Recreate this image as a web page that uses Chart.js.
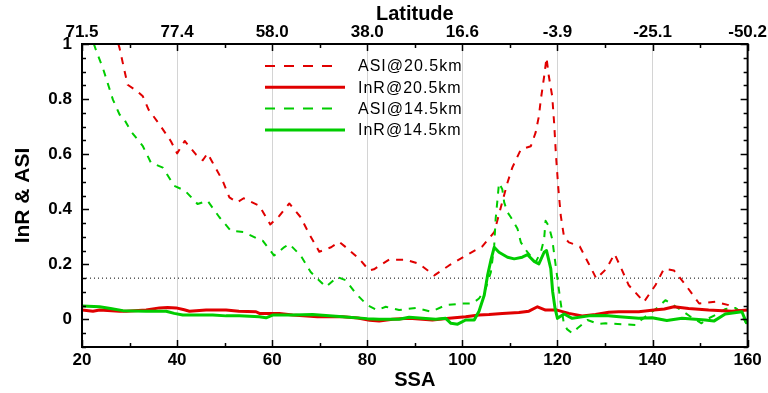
<!DOCTYPE html>
<html>
<head>
<meta charset="utf-8">
<script src="https://cdn.jsdelivr.net/npm/chart.js@4.4.1/dist/chart.umd.min.js"></script>
<style>
  body { margin: 0; background: #fff; }
  canvas { display: block; }
</style>
</head>
<body>
<canvas id="chart" width="768" height="393"></canvas>
<script>
// valores (SSA en x)
const ssaTicks = [20, 40, 60, 80, 100, 120, 140, 160];
const latLabels = ['71.5', '77.4', '58.0', '38.0', '16.6', '-3.9', '-25.1', '-50.2'];
const yTicks = [0, 0.2, 0.4, 0.6, 0.8, 1];
const threshold = 0.15;

// ASI@20.5km
const asi20X = [26.8, 27.9, 28.9, 29.6, 31.5, 32.8, 34.0, 36.3, 38.7, 40.0, 41.6, 44.0, 45.4, 46.4, 47.4, 49.6, 51.0, 52.6, 54.0, 57.3, 59.6, 61.5, 63.6, 66.0, 67.8, 69.9, 72.4, 74.1, 75.5, 78.3, 80.4, 81.4, 84.6, 88.1, 90.9, 94.1, 97.2, 100.7, 104.2, 106.7, 109.5, 110.5, 112.3, 114.4, 115.4, 116.1, 116.5, 117.2, 117.7, 118.2, 118.9, 119.3, 119.7, 120.2, 120.7, 121.4, 122.4, 124.7, 126.5, 128.2, 130.3, 132.0, 133.3, 135.0, 138.2, 140.6, 142.4, 144.5, 147.0, 149.8, 153.2, 156.0, 158.1, 160];
const asi20Y = [1.05, 0.985, 0.906, 0.852, 0.83, 0.81, 0.762, 0.708, 0.647, 0.603, 0.648, 0.598, 0.578, 0.603, 0.572, 0.503, 0.443, 0.425, 0.44, 0.413, 0.345, 0.376, 0.421, 0.371, 0.31, 0.246, 0.262, 0.282, 0.262, 0.22, 0.178, 0.182, 0.217, 0.217, 0.202, 0.16, 0.196, 0.232, 0.265, 0.317, 0.497, 0.551, 0.617, 0.629, 0.678, 0.738, 0.798, 0.882, 0.95, 0.882, 0.81, 0.714, 0.593, 0.473, 0.377, 0.298, 0.28, 0.265, 0.205, 0.148, 0.184, 0.238, 0.19, 0.124, 0.064, 0.124, 0.184, 0.178, 0.124, 0.058, 0.064, 0.052, 0.034, 0.025];

// InR@20.5km
const inr20X = [20, 22.3, 23.7, 27.9, 29.3, 33.5, 36.3, 38.0, 39.8, 41.5, 42.6, 46.1, 50.3, 53.0, 56.6, 57.3, 61.5, 64.3, 69.5, 74.8, 78.0, 80.5, 82.5, 85.3, 88.8, 93.7, 97.2, 100.7, 103.5, 105.6, 108.4, 111.9, 114.0, 115.8, 117.5, 119.9, 122.4, 125.2, 128.0, 130.8, 132.9, 137.1, 140.3, 142.5, 144.5, 147.6, 151.8, 156.7, 160];
const inr20Y = [0.034, 0.03, 0.034, 0.03, 0.03, 0.034, 0.042, 0.043, 0.042, 0.035, 0.03, 0.034, 0.034, 0.03, 0.028, 0.022, 0.022, 0.016, 0.01, 0.01, 0.005, -0.003, -0.006, 0.001, 0.004, -0.002, 0.004, 0.01, 0.016, 0.018, 0.022, 0.025, 0.03, 0.046, 0.034, 0.034, 0.022, 0.013, 0.018, 0.026, 0.028, 0.028, 0.034, 0.038, 0.046, 0.04, 0.034, 0.03, 0.034];

// ASI@14.5km
const asi14X = [21.5, 23.0, 24.4, 25.4, 26.5, 27.9, 28.9, 30.3, 32.8, 34.5, 37.0, 39.4, 41.7, 44.3, 46.4, 48.9, 51.3, 54.1, 57.0, 58.0, 60.4, 62.5, 63.6, 66.0, 68.1, 71.3, 73.7, 75.5, 77.6, 80.0, 82.1, 83.9, 86.7, 90.2, 93.4, 96.5, 100.0, 102.1, 103.5, 104.9, 106.0, 106.7, 107.0, 107.4, 107.7, 108.4, 108.8, 109.5, 110.2, 111.6, 112.3, 113.7, 115.4, 116.5, 117.2, 117.5, 118.2, 118.9, 119.4, 120.0, 120.6, 121.3, 122.0, 123.1, 124.2, 126.3, 128.5, 130.1, 136.4, 137.1, 141.3, 142.7, 144.3, 147.0, 148.0, 150.3, 151.1, 153.2, 155.3, 157.4, 158.4, 159.5, 160];
const asi14Y = [1.05, 0.975, 0.912, 0.858, 0.798, 0.744, 0.726, 0.683, 0.629, 0.569, 0.551, 0.485, 0.467, 0.419, 0.431, 0.371, 0.322, 0.317, 0.292, 0.286, 0.232, 0.262, 0.274, 0.232, 0.172, 0.118, 0.154, 0.142, 0.094, 0.052, 0.034, 0.046, 0.034, 0.042, 0.028, 0.052, 0.058, 0.058, 0.076, 0.112, 0.172, 0.268, 0.365, 0.437, 0.495, 0.473, 0.425, 0.389, 0.371, 0.329, 0.28, 0.244, 0.208, 0.244, 0.292, 0.358, 0.338, 0.292, 0.226, 0.148, 0.07, -0.01, -0.035, -0.05, -0.032, -0.002, -0.016, -0.014, -0.02, -0.008, 0.046, 0.07, 0.053, 0.022, 0.01, -0.014, -0.002, 0.016, 0.038, 0.042, 0.028, -0.008, -0.02];

// InR@14.5km
const inr14X = [20, 23.7, 26.0, 28.6, 33.5, 37.7, 39.4, 41.2, 43.3, 47.5, 50.3, 53.1, 57.3, 58.7, 60.1, 64.3, 68.5, 74.8, 80.0, 82.5, 86.7, 88.8, 94.4, 96.5, 97.6, 99.0, 100.7, 102.5, 103.5, 104.6, 105.3, 106.0, 106.7, 107.7, 109.5, 110.9, 112.6, 113.7, 115.1, 116.1, 117.2, 117.7, 118.6, 119.0, 119.5, 120.0, 121.4, 123.1, 126.6, 130.1, 133.0, 137.1, 139.9, 143.0, 146.2, 151.1, 152.9, 155.3, 158.8, 159.8];
const inr14Y = [0.049, 0.046, 0.04, 0.032, 0.03, 0.03, 0.022, 0.016, 0.016, 0.016, 0.013, 0.013, 0.01, 0.006, 0.016, 0.016, 0.018, 0.01, 0.003, 0.001, 0.001, 0.008, 0.001, 0.004, -0.014, -0.017, -0.002, -0.002, 0.03, 0.088, 0.16, 0.215, 0.262, 0.244, 0.226, 0.22, 0.226, 0.235, 0.211, 0.202, 0.244, 0.25, 0.184, 0.1, 0.04, 0.004, 0.02, 0.004, 0.013, 0.014, 0.01, 0.004, 0.006, -0.004, 0.004, -0.002, -0.006, 0.02, 0.028, -0.014];

const toPts = (xs, ys) => xs.map((x, i) => ({ x: x, y: ys[i] }));

const RED = '#e00000';
const GREEN = '#00cc00';
const FONT = "'Liberation Sans', Arial, sans-serif";

// marco negro y ticks hacia adentro
const framePlugin = {
  id: 'frame',
  afterDraw(chart) {
    const ctx = chart.ctx;
    const a = chart.chartArea;
    const xs = chart.scales.x;
    const ys = chart.scales.y;
    ctx.save();
    ctx.strokeStyle = '#000';
    ctx.lineWidth = 1.5;
    for (let v = 20; v <= 160; v += 10) {
      const px = Math.round(xs.getPixelForValue(v)) + 0.5;
      const len = v % 20 === 0 ? 7 : 4;
      ctx.beginPath();
      ctx.moveTo(px, a.bottom); ctx.lineTo(px, a.bottom - len);
      ctx.moveTo(px, a.top); ctx.lineTo(px, a.top + len);
      ctx.stroke();
    }
    for (let k = -2; k <= 20; k++) {
      const v = k * 0.05;
      const py = Math.round(ys.getPixelForValue(v)) + 0.5;
      const len = k % 4 === 0 ? 7 : 4;
      ctx.beginPath();
      ctx.moveTo(a.left, py); ctx.lineTo(a.left + len, py);
      ctx.moveTo(a.right, py); ctx.lineTo(a.right - len, py);
      ctx.stroke();
    }
    ctx.lineWidth = 2;
    ctx.strokeRect(a.left, a.top, a.right - a.left, a.bottom - a.top);
    ctx.restore();
  }
};

// leyenda dentro del grafico
const legendPlugin = {
  id: 'innerLegend',
  afterDraw(chart) {
    const ctx = chart.ctx;
    ctx.save();
    ctx.font = '16px ' + FONT;
    ctx.textBaseline = 'middle';
    if ('letterSpacing' in ctx) ctx.letterSpacing = '1px';
    let y = 66;
    chart.data.datasets.forEach(ds => {
      if (!ds.inLegend) return;
      ctx.strokeStyle = ds.borderColor;
      ctx.lineWidth = ds.borderWidth;
      ctx.setLineDash(ds.borderDash ? [10, 9] : []);
      ctx.beginPath();
      ctx.moveTo(265, y);
      ctx.lineTo(ds.borderDash ? 338 : 345, y);
      ctx.stroke();
      ctx.setLineDash([]);
      ctx.fillStyle = '#000';
      ctx.fillText(ds.label, 358, y + 1);
      y += 21.3;
    });
    ctx.restore();
  }
};

new Chart(document.getElementById('chart'), {
  type: 'line',
  data: {
    datasets: [
      { label: 'ASI@20.5km', data: toPts(asi20X, asi20Y), borderColor: RED, borderWidth: 2, borderDash: [7, 7], order: 4, inLegend: true },
      { label: 'InR@20.5km', data: toPts(inr20X, inr20Y), borderColor: RED, borderWidth: 3, order: 2, inLegend: true },
      { label: 'ASI@14.5km', data: toPts(asi14X, asi14Y), borderColor: GREEN, borderWidth: 2, borderDash: [7, 7], order: 3, inLegend: true },
      { label: 'InR@14.5km', data: toPts(inr14X, inr14Y), borderColor: GREEN, borderWidth: 3, order: 1, inLegend: true },
      { label: 'umbral', data: [{ x: ssaTicks[0], y: threshold }, { x: ssaTicks[ssaTicks.length - 1], y: threshold }], borderColor: '#000', borderWidth: 1, borderDash: [1, 3], order: 5, inLegend: false }
    ]
  },
  options: {
    responsive: false,
    animation: false,
    layout: { padding: { right: 20 } },
    elements: { point: { radius: 0 }, line: { tension: 0, borderJoinStyle: 'round' } },
    plugins: { legend: { display: false }, tooltip: { enabled: false } },
    scales: {
      x: {
        type: 'linear', position: 'bottom', min: 20, max: 160,
        afterFit: s => { s.height = 46; },
        afterBuildTicks: s => { s.ticks = ssaTicks.map(v => ({ value: v })); },
        grid: { color: '#d4d4d4', lineWidth: 1, drawTicks: false },
        border: { display: false },
        ticks: { padding: 3, color: '#000', font: { family: FONT, size: 17, weight: 'bold' }, callback: v => String(v) },
        title: { display: true, text: 'SSA', color: '#000', font: { family: FONT, size: 20, weight: 'bold' }, padding: { top: 0, bottom: 1 } }
      },
      x2: {
        type: 'linear', position: 'top', min: 20, max: 160,
        afterFit: s => { s.height = 44; },
        afterBuildTicks: s => { s.ticks = ssaTicks.map(v => ({ value: v })); },
        grid: { display: false, drawTicks: false },
        border: { display: false },
        ticks: { padding: 1, color: '#000', font: { family: FONT, size: 17, weight: 'bold' }, callback: v => latLabels[ssaTicks.indexOf(v)] },
        title: { display: true, text: 'Latitude', color: '#000', font: { family: FONT, size: 20, weight: 'bold' }, padding: { top: 2, bottom: 0 } }
      },
      y: {
        type: 'linear', position: 'left', min: -0.1, max: 1,
        afterFit: s => { s.width = 82; },
        afterBuildTicks: s => { s.ticks = yTicks.map(v => ({ value: v })); },
        grid: { display: false, drawTicks: false },
        border: { display: false },
        ticks: { padding: 10, color: '#000', font: { family: FONT, size: 17, weight: 'bold' }, callback: v => String(v) },
        title: { display: true, text: 'InR & ASI', color: '#000', font: { family: FONT, size: 21, weight: 'bold' }, padding: { top: 11, bottom: 0 } }
      }
    }
  },
  plugins: [framePlugin, legendPlugin]
});
</script>
</body>
</html>
